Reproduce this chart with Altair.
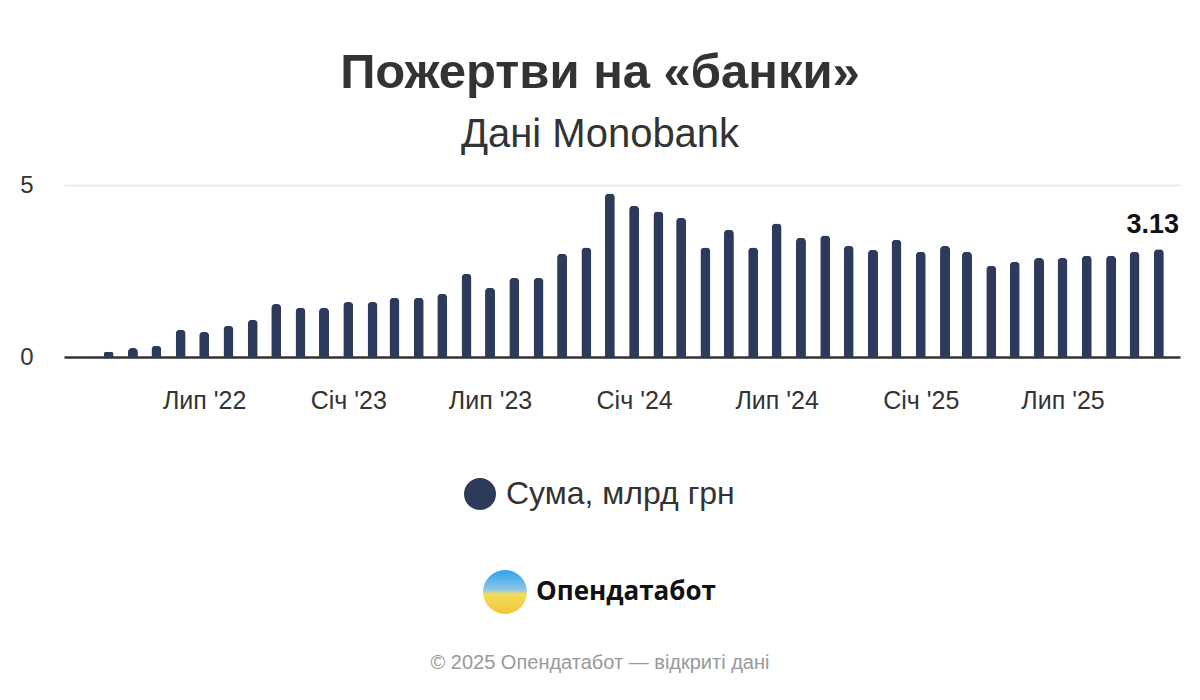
import altair as alt
import pandas as pd

# ---- data ----
MONTHS = [d.strftime("%Y-%m-%d") for d in pd.date_range("2022-03-01", "2025-11-01", freq="MS")]
VALUES = [0.15, 0.26, 0.33, 0.79, 0.73, 0.91, 1.08, 1.54, 1.43, 1.43,
          1.60, 1.60, 1.72, 1.72, 1.84, 2.42, 2.01, 2.30, 2.30, 3.00,
          3.18, 4.75, 4.40, 4.23, 4.05, 3.18, 3.70, 3.18, 3.88, 3.47,
          3.53, 3.23, 3.12, 3.41, 3.06, 3.23, 3.06, 2.65, 2.77, 2.88,
          2.88, 2.94, 2.94, 3.06, 3.13]
TICK_DATES = ["2022-07-01", "2023-01-01", "2023-07-01", "2024-01-01",
              "2024-07-01", "2025-01-01", "2025-07-01"]
TICK_LABELS = ["Лип '22", "Січ '23", "Лип '23", "Січ '24", "Лип '24", "Січ '25", "Лип '25"]
SERIES_NAME = "Сума, млрд грн"
TITLE = "Пожертви на «банки»"
SUBTITLE = "Дані Monobank"
LOGO_TEXT = "Опендатабот"
FOOTER = "© 2025 Опендатабот — відкриті дані"
LAST_LABEL = "3.13"

BAR = "#2d3a5c"
TXT = "#333333"
FONT = "Liberation Sans"

df = pd.DataFrame({"month": MONTHS, "value": VALUES, "series": SERIES_NAME})
df["label"] = ""
df.loc[df.index[-1], "label"] = LAST_LABEL


def ms(s):
    return int(pd.Timestamp(s, tz="UTC").value // 10**6)


tick_ms = [ms(d) for d in TICK_DATES]
label_expr = "''"
for t, lab in zip(reversed(tick_ms), reversed(TICK_LABELS)):
    label_expr = f'abs(time(datum.value) - {t}) < 86400000 ? "{lab}" : ({label_expr})'

W, H = 1116, 172
x_scale = alt.Scale(domain=[ms("2022-01-03"), ms("2025-11-28")], padding=0)
y_scale = alt.Scale(domain=[0, 5], nice=False)

x_enc = alt.X("month:T", scale=x_scale,
              axis=alt.Axis(values=tick_ms, labelExpr=label_expr, title=None,
                            ticks=False, grid=False, domainColor=TXT, domainWidth=2.5,
                            labelFont=FONT, labelFontSize=25, labelColor=TXT,
                            labelPadding=31, labelFlush=False, labelOverlap=False))
y_enc = alt.Y("value:Q", scale=y_scale,
              axis=alt.Axis(values=[0, 5], title=None, ticks=False, domain=False,
                            gridColor="#e6e6e6", gridWidth=1.5,
                            labelFont=FONT, labelFontSize=24, labelColor=TXT,
                            labelPadding=31))

bars = alt.Chart(df).mark_bar(width=10, cornerRadiusTopLeft=4, cornerRadiusTopRight=4).encode(
    x=x_enc, y=y_enc,
    color=alt.Color("series:N", scale=alt.Scale(range=[BAR]),
                    legend=alt.Legend(title=None, orient="none", legendX=400, legendY=293,
                                      symbolType="circle", symbolSize=1024, symbolStrokeWidth=0,
                                      labelFont=FONT, labelFontSize=32, labelColor=TXT,
                                      labelLimit=500, labelOffset=10, padding=0)),
)

last = alt.Chart(df).transform_filter("datum.label != ''").mark_text(
    font=FONT, fontSize=27, fontWeight="bold", color="#111111", baseline="bottom", dy=-10, dx=-6
).encode(x="month:T", y="value:Q", text="label:N")

one = pd.DataFrame({"logo": [LOGO_TEXT], "footer": [FOOTER]})

logo_circle = alt.Chart(one).mark_point(
    filled=True, shape="circle", size=1936, opacity=1,
    color=alt.Gradient(gradient="linear", x1=0, y1=0, x2=0, y2=1,
                       stops=[alt.GradientStop(offset=0, color="#2fa0ee"),
                              alt.GradientStop(offset=0.45, color="#8cc8e8"),
                              alt.GradientStop(offset=0.55, color="#f3dc5a"),
                              alt.GradientStop(offset=1, color="#f0c63a")])
).encode(x=alt.value(441), y=alt.value(407))

logo_text = alt.Chart(one).mark_text(
    font="Open Sans", fontSize=26, fontWeight="bold", color="#111111", align="left", baseline="middle"
).encode(x=alt.value(472), y=alt.value(407), text="logo:N")

footer = alt.Chart(one).mark_text(
    font=FONT, fontSize=20, color="#999999", align="center", baseline="middle"
).encode(x=alt.value(536), y=alt.value(478), text="footer:N")

chart = alt.layer(bars, last, logo_circle, logo_text, footer).properties(
    width=W, height=H,
    autosize=alt.AutoSizeParams(type="none"),
    padding={"left": 56, "top": 177, "right": 12, "bottom": 335},
    title=alt.TitleParams(text=TITLE, subtitle=SUBTITLE, anchor="middle", dx=-22,
                          font=FONT, fontSize=49, fontWeight="bold", color=TXT,
                          subtitleFont=FONT, subtitleFontSize=40, subtitleColor=TXT,
                          subtitlePadding=17, offset=18),
).configure(background="white", view=alt.ViewConfig(stroke="transparent", strokeWidth=0))

chart.save("out.html", embed_options={"renderer": "svg", "actions": False})
